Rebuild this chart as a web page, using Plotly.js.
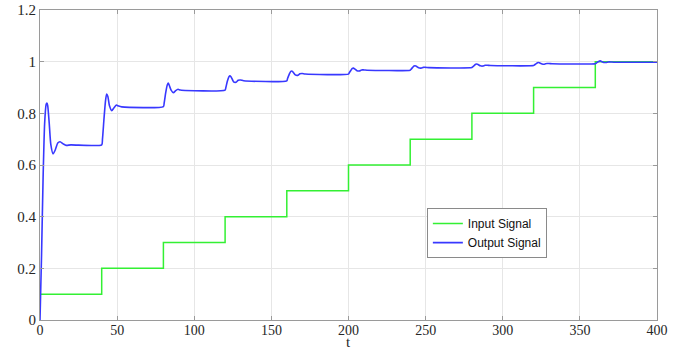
<!DOCTYPE html>
<html>
<head>
<meta charset="utf-8">
<script src="https://cdn.plot.ly/plotly-3.0.1.min.js"></script>
<style>html,body{margin:0;padding:0;background:#fff;}#chart{width:687px;height:350px;}</style>
</head>
<body>
<div id="chart"></div>
<script>
// Input signal: staircase (value held from each t until the next)
const inputT = [0, 40, 80, 120, 160, 200, 240, 280, 320, 360, 400];
const inputY = [0.1, 0.2, 0.3, 0.4, 0.5, 0.6, 0.7, 0.8, 0.9, 1.0, 1.0];

// Output signal
const outputT = [
  0, 1, 2, 3, 4, 4.5, 5, 6, 7, 8.5, 10, 11.5, 13, 15, 17, 20, 40,
  40.5, 41.5, 42.5, 43.2, 44, 45, 46.5, 48, 49.5, 51, 53, 80,
  80.5, 81.5, 82.5, 83.2, 84, 85, 86.5, 88, 89.5, 91, 120,
  120.5, 121.5, 122.5, 123.2, 124, 125.5, 127, 128.5, 130, 132, 160,
  160.5, 161.5, 162.5, 163.2, 164, 165.5, 167, 168.5, 170, 172, 200,
  200.5, 201.5, 202.5, 203.2, 204, 205.5, 207, 208.5, 210, 212, 240,
  240.5, 241.5, 242.5, 243.2, 244, 245.5, 247, 248.5, 250, 252, 280,
  280.5, 281.5, 282.5, 283.2, 284, 285.5, 287, 288.5, 290, 292, 320,
  320.5, 321.5, 322.5, 323.2, 324, 325.5, 327, 328.5, 330, 332, 360,
  360.5, 361.5, 362.5, 363.2, 364, 365.5, 367, 368.5, 370, 372, 400
];
const outputY = [
  0, 0.25, 0.55, 0.76, 0.835, 0.84, 0.83, 0.76, 0.68, 0.643, 0.66, 0.685, 0.69, 0.682, 0.676, 0.678, 0.678,
  0.70, 0.78, 0.85, 0.875, 0.865, 0.83, 0.81, 0.822, 0.832, 0.828, 0.825, 0.826,
  0.84, 0.88, 0.91, 0.917, 0.905, 0.89, 0.88, 0.888, 0.893, 0.89, 0.89,
  0.90, 0.925, 0.942, 0.945, 0.94, 0.922, 0.92, 0.928, 0.929, 0.926, 0.926,
  0.935, 0.95, 0.962, 0.964, 0.96, 0.949, 0.947, 0.953, 0.954, 0.952, 0.952,
  0.957, 0.966, 0.974, 0.975, 0.972, 0.965, 0.964, 0.968, 0.968, 0.967, 0.967,
  0.97, 0.977, 0.983, 0.984, 0.982, 0.976, 0.975, 0.978, 0.978, 0.977, 0.977,
  0.98, 0.985, 0.99, 0.991, 0.989, 0.984, 0.983, 0.986, 0.986, 0.985, 0.985,
  0.987, 0.991, 0.996, 0.997, 0.995, 0.991, 0.99, 0.993, 0.993, 0.992, 0.992,
  0.994, 0.998, 1.002, 1.003, 1.001, 0.997, 0.997, 0.999, 0.999, 0.998, 0.998
];

const xTicks = [0, 50, 100, 150, 200, 250, 300, 350, 400];
const yTicks = [0, 0.2, 0.4, 0.6, 0.8, 1, 1.2];
const yTickText = ['0', '0.2', '0.4', '0.6', '0.8', '1', '1.2'];
const xTitle = 't';

const traces = [
  {x: inputT, y: inputY, name: 'Input Signal', mode: 'lines', line: {color: '#33f033', width: 1.5, shape: 'hv'}},
  {x: outputT, y: outputY, name: 'Output Signal', mode: 'lines', line: {color: '#3838ff', width: 1.6, shape: 'spline', smoothing: 0.6}}
];

const serif = '"Liberation Serif", "Times New Roman", serif';
const axisCommon = {
  showgrid: true, gridcolor: '#e6e6e6', gridwidth: 1,
  showline: true, linecolor: '#9a9a9a', linewidth: 1, mirror: 'ticks',
  ticks: 'inside', ticklen: 4, tickcolor: '#9a9a9a',
  zeroline: false,
  tickfont: {family: serif, size: 15, color: '#262626'}
};

const layout = {
  width: 687, height: 350,
  margin: {l: 40, r: 30, t: 10, b: 30},
  paper_bgcolor: '#fff', plot_bgcolor: '#fff',
  font: {family: serif},
  showlegend: true,
  legend: {
    x: 0.627, y: 0.361, xanchor: 'left', yanchor: 'top',
    bgcolor: '#fff', bordercolor: '#8a8a8a', borderwidth: 1,
    font: {family: '"Liberation Sans", Arial, sans-serif', size: 12, color: '#111'},
    tracegroupgap: 0, itemwidth: 30
  },
  xaxis: Object.assign({}, axisCommon, {
    range: [0, 400], tickvals: xTicks, ticktext: xTicks.map(String),
    tickfont: {family: serif, size: 14, color: '#262626'},
    ticklabelstandoff: -3
  }),
  yaxis: Object.assign({}, axisCommon, {
    range: [0, 1.2], tickvals: yTicks, ticktext: yTickText
  }),
  annotations: [{
    text: xTitle, xref: 'paper', yref: 'paper', x: 0.5, y: -0.07,
    xanchor: 'center', yanchor: 'middle', showarrow: false,
    font: {family: serif, size: 15, color: '#262626'}
  }]
};

Plotly.newPlot('chart', traces, layout, {displayModeBar: false, staticPlot: true});
</script>
</body>
</html>
